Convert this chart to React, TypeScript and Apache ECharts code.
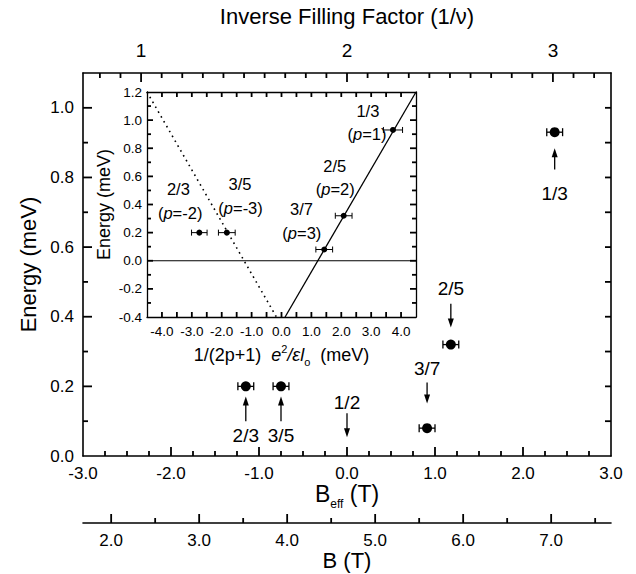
import React, { useEffect, useRef } from "react";
import * as echarts from "echarts";

const FONT = '"Liberation Sans", Arial, Helvetica, sans-serif';

// ---------- main panel data ----------
const BHALF = 4.68; // B at nu = 1/2 (T)
const beffMin = -3;
const beffMax = 3;
const energyMin = 0;
const energyMax = 1.1;

const mainFractions = ["2/3", "3/5", "3/7", "2/5", "1/3"];
const mainBeff = [-1.15, -0.75, 0.91, 1.18, 2.36];
const mainEnergy = [0.2, 0.2, 0.08, 0.32, 0.93];
const mainBeffErr = [0.09, 0.09, 0.09, 0.09, 0.09];

// tick values
const beffMajor = [-2, -1, 0, 1, 2];
const beffMinor = [-2.75, -2.5, -2.25, -1.75, -1.5, -1.25, -0.75, -0.5, -0.25, 0.25, 0.5, 0.75, 1.25, 1.5, 1.75, 2.25, 2.5, 2.75];
const mainYMajor = [0, 0.2, 0.4, 0.6, 0.8, 1.0];
const mainYMinor = [0.1, 0.3, 0.5, 0.7, 0.9];
const mainYRight = [0.1, 0.2, 0.3, 0.4, 0.5, 0.6, 0.7, 0.8, 0.9, 1.0];
const fillTicks = [1, 2, 3];
const fillMinor = [0.8, 0.9, 1.1, 1.2, 1.3, 1.4, 1.5, 1.6, 1.7, 1.8, 1.9, 2.1, 2.2, 2.3, 2.4, 2.5, 2.6, 2.7, 2.8, 2.9, 3.1, 3.2];
const bTicks = [2, 3, 4, 5, 6, 7];
const bMinor = [2.5, 3.5, 4.5, 5.5, 6.5, 7.5];

// arrows: label, x, label y, tail y, tip y
const arrowLabels = ["2/3", "3/5", "1/2", "3/7", "2/5", "1/3"];
const arrowX = [-1.15, -0.75, 0.0, 0.91, 1.18, 2.36];
const arrowLabelY = [0.06, 0.06, 0.154, 0.251, 0.48, 0.754];
const arrowTailY = [0.1, 0.1, 0.123, 0.211, 0.437, 0.823];
const arrowTipY = [0.171, 0.171, 0.054, 0.151, 0.369, 0.884];

// ---------- inset data ----------
const insetXMin = -4.5;
const insetXMax = 4.5;
const insetYMin = -0.4;
const insetYMax = 1.2;
const insetX = [-2.75, -1.83, 1.43, 2.08, 3.73];
const insetE = [0.2, 0.2, 0.08, 0.32, 0.93];
const insetXErr = [0.26, 0.28, 0.28, 0.28, 0.32];

const insetXTicks = [-4, -3.5, -3, -2.5, -2, -1.5, -1, -0.5, 0, 0.5, 1, 1.5, 2, 2.5, 3, 3.5, 4];
const insetYMajor = [-0.2, 0, 0.2, 0.4, 0.6, 0.8, 1.0];
const insetYMinor = [-0.3, -0.1, 0.1, 0.3, 0.5, 0.7, 0.9, 1.1];

const fitSolid = [
  [0.12, -0.4],
  [4.5, 1.2],
];
const fitDotted = [
  [-4.5, 1.2],
  [-0.17, -0.4],
];
const zeroLine = [
  [-4.5, 0],
  [4.5, 0],
];

const insetFrac = ["1/3", "2/5", "3/7", "2/3", "3/5"];
const insetFracX = [2.89, 1.78, 0.67, -3.45, -1.39];
const insetFracY = [1.065, 0.674, 0.366, 0.508, 0.544];
const insetP = ["1", "2", "3", "-2", "-3"];
const insetPX = [2.86, 1.8, 0.68, -3.39, -1.37];
const insetPY = [0.899, 0.508, 0.2, 0.342, 0.378];

const BLACK = "#000";

function fmt1(v: number) {
  if (Math.abs(v) < 1e-9) return "0.0";
  return v.toFixed(1);
}

function errorBarRender(capHalf: number, lw: number) {
  return (params: any, api: any) => {
    const x = api.value(0);
    const y = api.value(1);
    const e = api.value(2);
    const l = api.coord([x - e, y]);
    const r = api.coord([x + e, y]);
    const st = { stroke: BLACK, lineWidth: lw };
    return {
      type: "group",
      children: [
        { type: "line", shape: { x1: l[0], y1: l[1], x2: r[0], y2: r[1] }, style: st },
        { type: "line", shape: { x1: l[0], y1: l[1] - capHalf, x2: l[0], y2: l[1] + capHalf }, style: st },
        { type: "line", shape: { x1: r[0], y1: r[1] - capHalf, x2: r[0], y2: r[1] + capHalf }, style: st },
      ],
    };
  };
}

function textRender(texts: string[], fontSize: number, italicP: boolean) {
  return (params: any, api: any) => {
    const p = api.coord([api.value(0), api.value(1)]);
    const t = texts[params.dataIndex];
    return {
      type: "text",
      x: p[0],
      y: p[1],
      style: {
        text: italicP ? "({i|p}=" + t + ")" : t,
        fill: BLACK,
        fontSize,
        fontFamily: FONT,
        align: "center",
        verticalAlign: "middle",
        rich: {
          i: { fontStyle: "italic", fontFamily: FONT, fontSize, fill: BLACK },
        },
      },
    };
  };
}

// Tick marks as thin rectangle symbols placed on the axes through their scales.
// side: "bottom" ticks point up, "top" point down, "left" point right, "right" point left.
const TICK_W = 1.8;
function tickMarks(
  xAxisIndex: number,
  yAxisIndex: number,
  vals: number[],
  side: "bottom" | "top" | "left" | "right",
  edge: number,
  len: number,
  extraOffset = 0
) {
  const vertical = side === "bottom" || side === "top";
  let offset: number[];
  if (side === "bottom") offset = [0, -len / 2 + extraOffset];
  else if (side === "top") offset = [0, len / 2];
  else if (side === "left") offset = [len / 2, 0];
  else offset = [-len / 2, 0];
  return {
    type: "scatter",
    xAxisIndex,
    yAxisIndex,
    silent: true,
    clip: false,
    z: 10,
    symbol: "rect",
    symbolSize: vertical ? [TICK_W, len] : [len, TICK_W],
    symbolOffset: offset,
    itemStyle: { color: BLACK, opacity: 1, borderWidth: 0 },
    emphasis: { disabled: true },
    data: vals.map((v) => (vertical ? [v, edge] : [edge, v])),
  };
}

export default function App() {
  const ref = useRef<HTMLDivElement>(null);

  useEffect(() => {
    if (!ref.current) return;
    const chart = echarts.init(ref.current, undefined, { renderer: "svg" });

    const fillMin = (2 * (beffMin + BHALF)) / BHALF;
    const fillMax = (2 * (beffMax + BHALF)) / BHALF;
    const BOFFSET = 67;

    const axLine = { show: true, onZero: false, lineStyle: { color: BLACK, width: 1.6 } };
    const inLine = { show: true, onZero: false, lineStyle: { color: BLACK, width: 1.3 } };
    const noTick = { show: false };
    const labelBase = { color: BLACK, fontFamily: FONT };

    const tickSeriesList: any[] = [
      tickMarks(0, 0, beffMajor, "bottom", energyMin, 9),
      tickMarks(0, 0, beffMinor, "bottom", energyMin, 5),
      tickMarks(1, 0, fillTicks, "top", energyMax, 9),
      tickMarks(1, 0, fillMinor, "top", energyMax, 5),
      tickMarks(2, 0, bTicks, "bottom", energyMin, 9, BOFFSET),
      tickMarks(2, 0, bMinor, "bottom", energyMin, 5, BOFFSET),
      tickMarks(0, 0, mainYMajor.slice(1), "left", beffMin, 9),
      tickMarks(0, 0, mainYMinor, "left", beffMin, 5),
      tickMarks(0, 0, mainYRight, "right", beffMax, 6),
      tickMarks(3, 2, insetXTicks, "bottom", insetYMin, 5),
      tickMarks(3, 2, insetXTicks, "top", insetYMax, 5),
      tickMarks(3, 2, insetYMajor, "left", insetXMin, 6),
      tickMarks(3, 2, insetYMinor, "left", insetXMin, 4),
      tickMarks(3, 2, insetYMajor, "right", insetXMax, 6),
      tickMarks(3, 2, insetYMinor, "right", insetXMax, 4),
    ];

    const option: any = {
      animation: false,
      backgroundColor: "#fff",
      textStyle: { fontFamily: FONT, color: BLACK },
      grid: [
        { left: 83, top: 73, width: 528, height: 383, show: false, outerBoundsMode: "none", containLabel: false },
        { left: 147, top: 92, width: 269, height: 225, show: false, outerBoundsMode: "none", containLabel: false },
      ],
      xAxis: [
        {
          type: "value",
          gridIndex: 0,
          position: "bottom",
          min: beffMin,
          max: beffMax,
          interval: 1,
          axisLine: axLine,
          axisTick: noTick,
          splitLine: { show: false },
          axisLabel: { ...labelBase, fontSize: 17, margin: 9, formatter: (v: number) => fmt1(v) },
          name: "{b|B}{sub|eff}{b| (T)}",
          nameLocation: "middle",
          nameGap: 26,
          nameMoveOverlap: false,
          nameTextStyle: {
            color: BLACK,
            fontFamily: FONT,
            fontSize: 22,
            rich: {
              b: { fontSize: 23, fontFamily: FONT, color: BLACK, verticalAlign: "top", lineHeight: 26 },
              sub: { fontSize: 12, fontFamily: FONT, color: BLACK, verticalAlign: "top", lineHeight: 12, padding: [16, 0, 0, 0] },
            },
          },
        },
        {
          type: "value",
          gridIndex: 0,
          position: "top",
          min: fillMin,
          max: fillMax,
          axisLine: axLine,
          axisTick: noTick,
          splitLine: { show: false },
          axisLabel: { ...labelBase, fontSize: 19, margin: 13, customValues: fillTicks, formatter: (v: number) => String(Math.round(v)) },
          name: "Inverse Filling Factor (1/ν)",
          nameLocation: "middle",
          nameGap: 46,
          nameTextStyle: { color: BLACK, fontFamily: FONT, fontSize: 22 },
        },
        {
          type: "value",
          gridIndex: 0,
          position: "bottom",
          offset: BOFFSET,
          min: beffMin + BHALF,
          max: beffMax + BHALF,
          axisLine: axLine,
          axisTick: noTick,
          splitLine: { show: false },
          axisLabel: { ...labelBase, fontSize: 17, margin: 9, customValues: bTicks, formatter: (v: number) => fmt1(v) },
          name: "B (T)",
          nameLocation: "middle",
          nameGap: 26,
          nameMoveOverlap: false,
          nameTextStyle: { color: BLACK, fontFamily: FONT, fontSize: 22, lineHeight: 22 },
        },
        {
          type: "value",
          gridIndex: 1,
          position: "bottom",
          min: insetXMin,
          max: insetXMax,
          interval: 0.5,
          axisLine: inLine,
          axisTick: noTick,
          splitLine: { show: false },
          axisLabel: {
            ...labelBase,
            fontSize: 13.5,
            margin: 7,
            formatter: (v: number) => (Math.abs(v - Math.round(v)) < 1e-6 ? fmt1(Math.round(v)) : ""),
          },
          name: "1/(2p+1)  {i|e}{sup|2}{i|/εl}{sub|o}  (meV)",
          nameLocation: "middle",
          nameGap: 26,
          nameTextStyle: {
            color: BLACK,
            fontFamily: FONT,
            fontSize: 18,
            lineHeight: 24,
            rich: {
              i: { fontSize: 18, fontFamily: FONT, fontStyle: "italic", color: BLACK },
              sup: { fontSize: 11, fontFamily: FONT, color: BLACK, verticalAlign: "top", lineHeight: 11 },
              sub: { fontSize: 11, fontFamily: FONT, color: BLACK, verticalAlign: "bottom", lineHeight: 11 },
            },
          },
        },
        {
          type: "value",
          gridIndex: 1,
          position: "top",
          min: insetXMin,
          max: insetXMax,
          interval: 0.5,
          axisLine: inLine,
          axisTick: noTick,
          splitLine: { show: false },
          axisLabel: { show: false },
        },
      ],
      yAxis: [
        {
          type: "value",
          gridIndex: 0,
          position: "left",
          min: energyMin,
          max: energyMax,
          axisLine: axLine,
          axisTick: noTick,
          splitLine: { show: false },
          axisLabel: { ...labelBase, fontSize: 17, margin: 9, customValues: mainYMajor, formatter: (v: number) => fmt1(v) },
          name: "Energy (meV)",
          nameLocation: "middle",
          nameGap: 43,
          nameTextStyle: { color: BLACK, fontFamily: FONT, fontSize: 22 },
        },
        {
          type: "value",
          gridIndex: 0,
          position: "right",
          min: energyMin,
          max: energyMax,
          axisLine: axLine,
          axisTick: noTick,
          splitLine: { show: false },
          axisLabel: { show: false },
        },
        {
          type: "value",
          gridIndex: 1,
          position: "left",
          min: insetYMin,
          max: insetYMax,
          interval: 0.2,
          axisLine: inLine,
          axisTick: noTick,
          splitLine: { show: false },
          axisLabel: { ...labelBase, fontSize: 13.5, margin: 5, formatter: (v: number) => fmt1(v) },
          name: "Energy (meV)",
          nameLocation: "middle",
          nameGap: 34,
          nameTextStyle: { color: BLACK, fontFamily: FONT, fontSize: 18 },
        },
        {
          type: "value",
          gridIndex: 1,
          position: "right",
          min: insetYMin,
          max: insetYMax,
          interval: 0.2,
          axisLine: inLine,
          axisTick: noTick,
          splitLine: { show: false },
          axisLabel: { show: false },
        },
      ],
      series: [
        {
          type: "custom",
          xAxisIndex: 0,
          yAxisIndex: 0,
          renderItem: errorBarRender(4, 1.3),
          data: mainBeff.map((x, i) => [x, mainEnergy[i], mainBeffErr[i]]),
          z: 3,
        },
        {
          type: "scatter",
          xAxisIndex: 0,
          yAxisIndex: 0,
          symbol: "circle",
          symbolSize: 10,
          itemStyle: { color: BLACK, opacity: 1 },
          data: mainBeff.map((x, i) => [x, mainEnergy[i]]),
          z: 4,
        },
        {
          type: "custom",
          xAxisIndex: 0,
          yAxisIndex: 0,
          data: arrowX.map((x, i) => [x, arrowLabelY[i], arrowTailY[i], arrowTipY[i]]),
          renderItem: (params: any, api: any) => {
            const x = api.value(0);
            const ly = api.value(1);
            const ty = api.value(2);
            const py = api.value(3);
            const pTail = api.coord([x, ty]);
            const pTip = api.coord([x, py]);
            const pl = api.coord([x, ly]);
            const dir = pTip[1] > pTail[1] ? 1 : -1;
            const headLen = 9;
            const headW = 3;
            return {
              type: "group",
              children: [
                {
                  type: "line",
                  shape: { x1: pTail[0], y1: pTail[1], x2: pTip[0], y2: pTip[1] - dir * headLen * 0.6 },
                  style: { stroke: BLACK, lineWidth: 1.3 },
                },
                {
                  type: "polygon",
                  shape: {
                    points: [
                      [pTip[0], pTip[1]],
                      [pTip[0] - headW, pTip[1] - dir * headLen],
                      [pTip[0] + headW, pTip[1] - dir * headLen],
                    ],
                  },
                  style: { fill: BLACK },
                },
                {
                  type: "text",
                  x: pl[0],
                  y: pl[1],
                  style: {
                    text: arrowLabels[params.dataIndex],
                    fill: BLACK,
                    fontSize: 19,
                    fontFamily: FONT,
                    align: "center",
                    verticalAlign: "middle",
                  },
                },
              ],
            };
          },
        },
        {
          type: "line",
          xAxisIndex: 3,
          yAxisIndex: 2,
          data: zeroLine,
          showSymbol: false,
          lineStyle: { color: BLACK, width: 1 },
          z: 2,
        },
        {
          type: "line",
          xAxisIndex: 3,
          yAxisIndex: 2,
          data: fitSolid,
          showSymbol: false,
          lineStyle: { color: BLACK, width: 1.3 },
          z: 2,
        },
        {
          type: "line",
          xAxisIndex: 3,
          yAxisIndex: 2,
          data: fitDotted,
          showSymbol: false,
          lineStyle: { color: BLACK, width: 1.6, type: [1.6, 4] },
          z: 2,
        },
        {
          type: "custom",
          xAxisIndex: 3,
          yAxisIndex: 2,
          renderItem: errorBarRender(3, 1),
          data: insetX.map((x, i) => [x, insetE[i], insetXErr[i]]),
          z: 3,
        },
        {
          type: "scatter",
          xAxisIndex: 3,
          yAxisIndex: 2,
          symbol: "circle",
          symbolSize: 6,
          itemStyle: { color: BLACK, opacity: 1 },
          data: insetX.map((x, i) => [x, insetE[i]]),
          z: 4,
        },
        {
          type: "custom",
          xAxisIndex: 3,
          yAxisIndex: 2,
          silent: true,
          data: insetFracX.map((x, i) => [x, insetFracY[i]]),
          renderItem: textRender(insetFrac, 16.5, false),
          z: 5,
        },
        {
          type: "custom",
          xAxisIndex: 3,
          yAxisIndex: 2,
          silent: true,
          data: insetPX.map((x, i) => [x, insetPY[i]]),
          renderItem: textRender(insetP, 16.5, true),
          z: 5,
        },
        ...tickSeriesList,
      ],
    };

    chart.setOption(option);
    return () => chart.dispose();
  }, []);

  return (
    <div
      ref={ref}
      style={{ position: "fixed", left: 0, top: 0, width: 636, height: 574, background: "#fff" }}
    />
  );
}
